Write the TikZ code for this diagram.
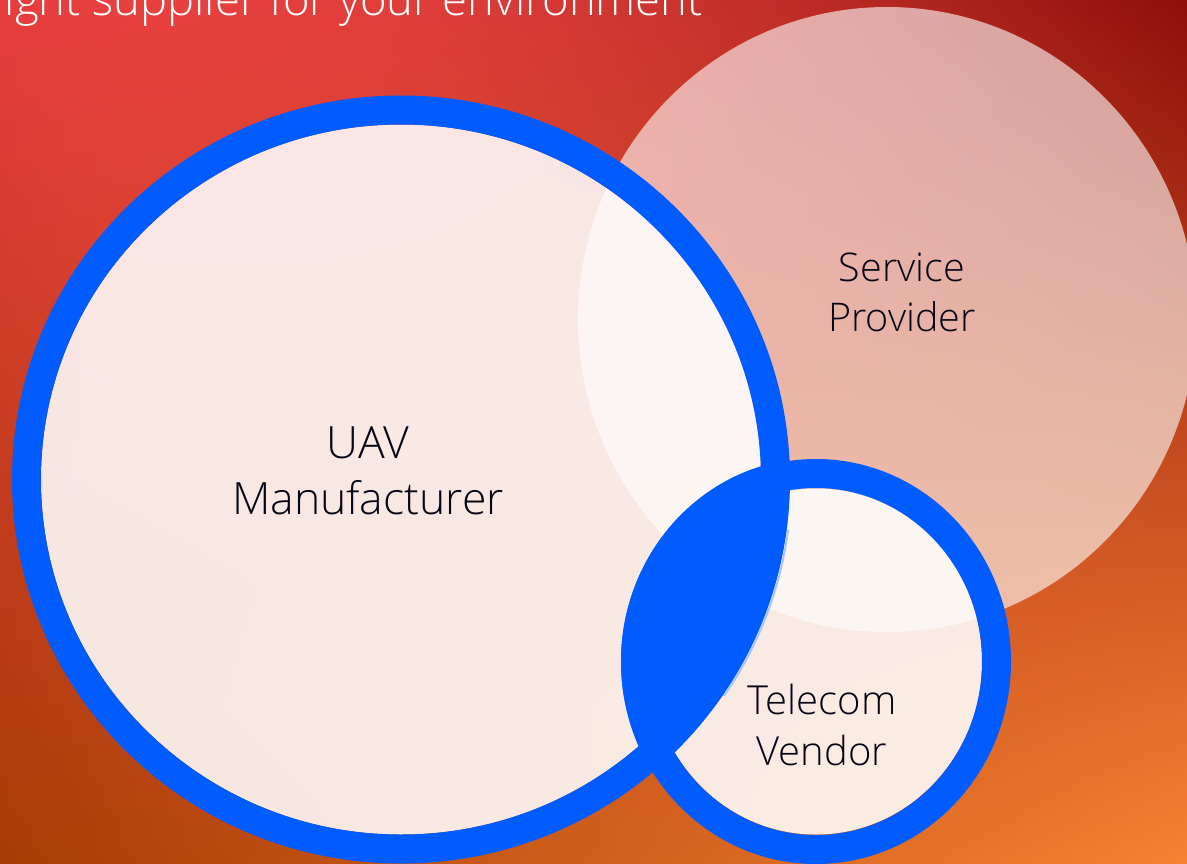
\documentclass[tikz,border=0pt]{standalone}
\usepackage{fontspec}
\setmainfont{Open Sans Light}
\pgfdeclarefunctionalshading{bgmesh}{\pgfpointorigin}{\pgfpoint{100bp}{100bp}}{}{
25 sub 50 div exch 25 sub 50 div
dup .306 mul 2 index .243 mul add 2 index 2 index 1.5 exp mul -.659 mul add .659 add
1 index .275 mul 3 index 0 mul add 3 index 3 index 1.5 exp mul -.451 mul add .235 add
2 index .176 mul 4 index .223 mul add 4 index 4 index 1.5 exp mul -.380 mul add .020 add
5 -2 roll pop pop
}
\definecolor{ringblue}{RGB}{0,92,255}
\definecolor{inkdark}{RGB}{5,5,20}
\tikzset{
  x=1pt,y=-1pt,
  veil/.style={fill=white,draw=none,fill opacity=.875},
  softveil/.style={fill=white,draw=none,fill opacity=.6},
  ring/.style={draw=ringblue,line width=29pt,fill=none},
  vennlabel/.style={align=center,text=inkdark,inner sep=0pt},
}
\begin{document}
\begin{tikzpicture}
\useasboundingbox (0,0) rectangle (1187,863);
\clip (0,0) rectangle (1187,863);
\shade[shading=bgmesh] (0,0) rectangle (1187,863);
\node[anchor=base west,inner sep=0pt,text=white,font=\fontsize{45.4}{52}\selectfont] (headline) at (-13,15) {right supplier for your environment};
% Service provider
\fill[softveil] (887,319.5) ellipse [x radius=309,y radius=312.5];
% UAV fill and ring
\fill[veil] (401,479.5) ellipse [x radius=360,y radius=355];
\draw[ring] (401,479.5) ellipse [x radius=374.5,y radius=369.5];
% Telecom fill and ring
\fill[veil] (816,661.5) ellipse [x radius=166,y radius=173];
\draw[ring] (816,661.5) ellipse [x radius=180.5,y radius=188];
% light sliver
\begin{scope}
\clip (700,530) rectangle (800,695);
\clip (816,661.5) ellipse [x radius=166,y radius=173];
\draw[draw=ringblue!35!white,line width=1.8pt] (401.5,479.5) ellipse [x radius=390,y radius=385];
\end{scope}
% lens
\begin{scope}
\clip (401,479.5) ellipse [x radius=389,y radius=384];
\fill[ringblue] (816,661.5) ellipse [x radius=195,y radius=203.5];
\end{scope}
\node[vennlabel,font=\fontsize{44.5}{56}\selectfont] (uav) at (368,471) {UAV\\Manufacturer};
\node[vennlabel,font=\fontsize{39.5}{50}\selectfont] (service) at (902,292) {Service\\Provider};
\node[vennlabel,font=\fontsize{40}{51}\selectfont] (telecom) at (822,725) {Telecom\\Vendor};
\end{tikzpicture}
\end{document}
